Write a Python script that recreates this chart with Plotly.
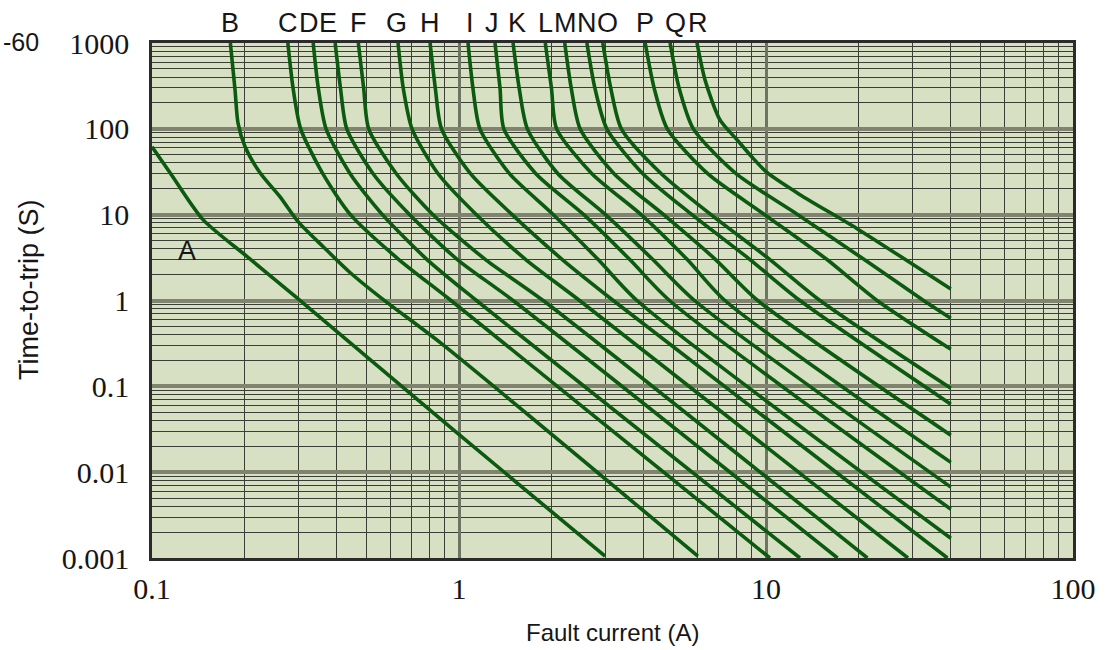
import math
import plotly.graph_objects as go

# ---- data (current in A, time in s) ----
curve_names = ["A", "B", "C", "D", "E", "F", "G", "H", "I", "J", "K", "L", "M", "N", "O", "P", "Q", "R"]

A_current = [0.1, 0.1145, 0.1466, 0.204, 0.296, 0.936, 2.99]
A_time = [61.8, 30.8, 8.75, 3.25, 1.08, 0.0334, 0.00105]

B_current = [0.18, 0.1864, 0.1906, 0.201, 0.2248, 0.261, 0.299, 0.3606, 0.4415, 0.5654, 0.867, 6.0]
B_time = [1000, 284, 117, 61.8, 30.8, 16.2, 8.29, 4.25, 2.12, 1.03, 0.325, 0.00105]

C_current = [0.277, 0.288, 0.305, 0.36, 0.443, 0.637, 0.942, 10.3]
C_time = [1000, 300, 100, 30, 10, 3, 1, 0.001]

D_current = [0.335, 0.348, 0.369, 0.442, 0.563, 0.787, 1.14, 12.9]
D_time = [1000, 300, 100, 30, 10, 3, 1, 0.001]

E_current = [0.395, 0.411, 0.431, 0.525, 0.691, 0.988, 1.50, 17.1]
E_time = [1000, 300, 100, 30, 10, 3, 1, 0.001]

F_current = [0.47, 0.489, 0.508, 0.625, 0.823, 1.22, 1.88, 21.4]
F_time = [1000, 300, 100, 30, 10, 3, 1, 0.001]

G_current = [0.633, 0.658, 0.703, 0.855, 1.14, 1.65, 2.47, 29.0]
G_time = [1000, 300, 100, 30, 10, 3, 1, 0.001]

H_current = [0.805, 0.837, 0.877, 1.09, 1.49, 2.17, 3.18, 39.0]
H_time = [1000, 300, 100, 30, 10, 3, 1, 0.001]

I_current = [1.07, 1.11, 1.17, 1.46, 2.03, 2.84, 3.80, 40.0]
I_time = [1000, 300, 100, 30, 10, 3, 1, 0.0017]

J_current = [1.31, 1.36, 1.40, 1.78, 2.55, 3.60, 4.85, 40.0]
J_time = [1000, 300, 100, 30, 10, 3, 1, 0.0037]

K_current = [1.50, 1.57, 1.67, 2.10, 3.0, 4.28, 5.85, 40.0]
K_time = [1000, 300, 100, 30, 10, 3, 1, 0.0067]

L_current = [1.91, 2.0, 2.08, 2.71, 3.92, 5.54, 7.35, 40.0]
L_time = [1000, 300, 100, 30, 10, 3, 1, 0.013]

M_current = [2.21, 2.32, 2.48, 3.2, 4.64, 6.85, 9.4, 40.0]
M_time = [1000, 300, 100, 30, 10, 3, 1, 0.027]

N_current = [2.61, 2.77, 3.03, 3.97, 5.74, 8.87, 12.9, 40.0]
N_time = [1000, 300, 100, 30, 10, 3, 1, 0.062]

O_current = [2.94, 3.12, 3.38, 4.56, 6.62, 10.3, 15.0, 40.0]
O_time = [1000, 300, 100, 30, 10, 3, 1, 0.095]

P_current = [4.04, 4.32, 4.77, 6.46, 9.9, 15.8, 23.0, 40.0]
P_time = [1000, 300, 100, 30, 10, 3, 1, 0.27]

Q_current = [4.87, 5.21, 5.80, 7.99, 12.7, 20.9, 32.6, 40.0]
Q_time = [1000, 300, 100, 30, 10, 3, 1, 0.62]

R_current = [5.96, 6.33, 7.08, 8.05, 9.0, 10.07, 12.9, 19.8, 40.0]
R_time = [1000, 371, 127, 74.5, 47.0, 31.0, 17.1, 6.87, 1.36]

# letters printed above the curves (current at which each letter is centred)
label_names = ["B", "C", "D", "E", "F", "G", "H", "I", "J", "K", "L", "M", "N", "O", "P", "Q", "R"]
label_current = [0.1795, 0.2763, 0.3247, 0.3757, 0.4689, 0.6281, 0.8045, 1.086, 1.281, 1.545,
                 1.906, 2.215, 2.612, 3.057, 4.036, 5.091, 6.005]

x_tickvals = [0.1, 1, 10, 100]
x_ticktext = ["0.1", "1", "10", "100"]
y_tickvals = [0.001, 0.01, 0.1, 1, 10, 100, 1000]
y_ticktext = ["0.001", "0.01", "0.1", "1", "10", "100", "1000"]

curves = {
    "A": (A_current, A_time), "B": (B_current, B_time), "C": (C_current, C_time),
    "D": (D_current, D_time), "E": (E_current, E_time), "F": (F_current, F_time),
    "G": (G_current, G_time), "H": (H_current, H_time), "I": (I_current, I_time),
    "J": (J_current, J_time), "K": (K_current, K_time), "L": (L_current, L_time),
    "M": (M_current, M_time), "N": (N_current, N_time), "O": (O_current, O_time),
    "P": (P_current, P_time), "Q": (Q_current, Q_time), "R": (R_current, R_time),
}

LINE = "#0c5a10"
fig = go.Figure()
for name in curve_names:
    xs, ys = curves[name]
    fig.add_trace(go.Scatter(
        x=xs, y=ys, mode="lines", name=name,
        line=dict(color=LINE, width=3.6, shape="spline", smoothing=0.7),
        hoverinfo="name+x+y", showlegend=False,
    ))

W, H = 1117, 650
L_M, R_M, T_M, B_M = 152, 44, 43, 92
pw, ph = W - L_M - R_M, H - T_M - B_M   # 921 x 515


def px(page_x):
    return (page_x - L_M) / pw


def py(page_y):
    return (H - B_M - page_y) / ph


SANS = "Liberation Sans, Arial"
SERIF = "Liberation Serif, Times New Roman"
TXT = "#161616"

annotations = []
for nm, cx in zip(label_names, label_current):
    annotations.append(dict(x=math.log10(cx), y=py(23), xref="x", yref="paper", text=nm, showarrow=False,
                            xanchor="center", yanchor="middle",
                            font=dict(family=SANS, size=27, color=TXT)))
annotations.append(dict(x=math.log10(0.130), y=math.log10(3.8), xref="x", yref="y", text="A", showarrow=False,
                        xanchor="center", yanchor="middle",
                        font=dict(family=SANS, size=27, color=TXT)))
annotations.append(dict(x=px(612), y=py(632), xref="paper", yref="paper",
                        text="Fault current (A)", showarrow=False, xanchor="center", yanchor="middle",
                        font=dict(family=SANS, size=24, color=TXT)))
annotations.append(dict(x=px(29), y=py(290), xref="paper", yref="paper",
                        text="Time-to-trip (S)", showarrow=False, textangle=-90,
                        xanchor="center", yanchor="middle",
                        font=dict(family=SANS, size=27, color=TXT)))
annotations.append(dict(x=px(1), y=py(42), xref="paper", yref="paper", xanchor="left", yanchor="middle",
                        text="-60", showarrow=False,
                        font=dict(family=SANS, size=25, color=TXT)))

fig.update_layout(
    width=W, height=H,
    margin=dict(l=L_M, r=R_M, t=T_M, b=B_M),
    paper_bgcolor="white",
    plot_bgcolor="#d7e0c2",
    annotations=annotations,
    showlegend=False,
)
fig.update_xaxes(
    type="log", range=[-1, 2],
    tickvals=x_tickvals, ticktext=x_ticktext,
    tickfont=dict(family=SERIF, size=30, color=TXT),
    ticks="outside", ticklen=2, tickcolor="rgba(0,0,0,0)",
    showgrid=True, gridcolor="#6f7363", gridwidth=2.5,
    minor=dict(dtick="D1", showgrid=True, gridcolor="#3b3e34", gridwidth=1.2, ticks=""),
    showline=True, mirror=True, linecolor="#2b2b2b", linewidth=2.5,
    zeroline=False,
)
fig.update_yaxes(
    type="log", range=[-3, 3],
    tickvals=y_tickvals, ticktext=y_ticktext,
    tickfont=dict(family=SERIF, size=30, color=TXT),
    ticks="outside", ticklen=14, tickcolor="rgba(0,0,0,0)",
    showgrid=True, gridcolor="#80846f", gridwidth=4,
    minor=dict(dtick="D1", showgrid=True, gridcolor="#3b3e34", gridwidth=1.2, ticks=""),
    showline=True, mirror=True, linecolor="#2b2b2b", linewidth=2.5,
    zeroline=False,
)

fig.write_html("out.html", config={"displayModeBar": False},
               post_script="document.body.style.margin='0px';")
